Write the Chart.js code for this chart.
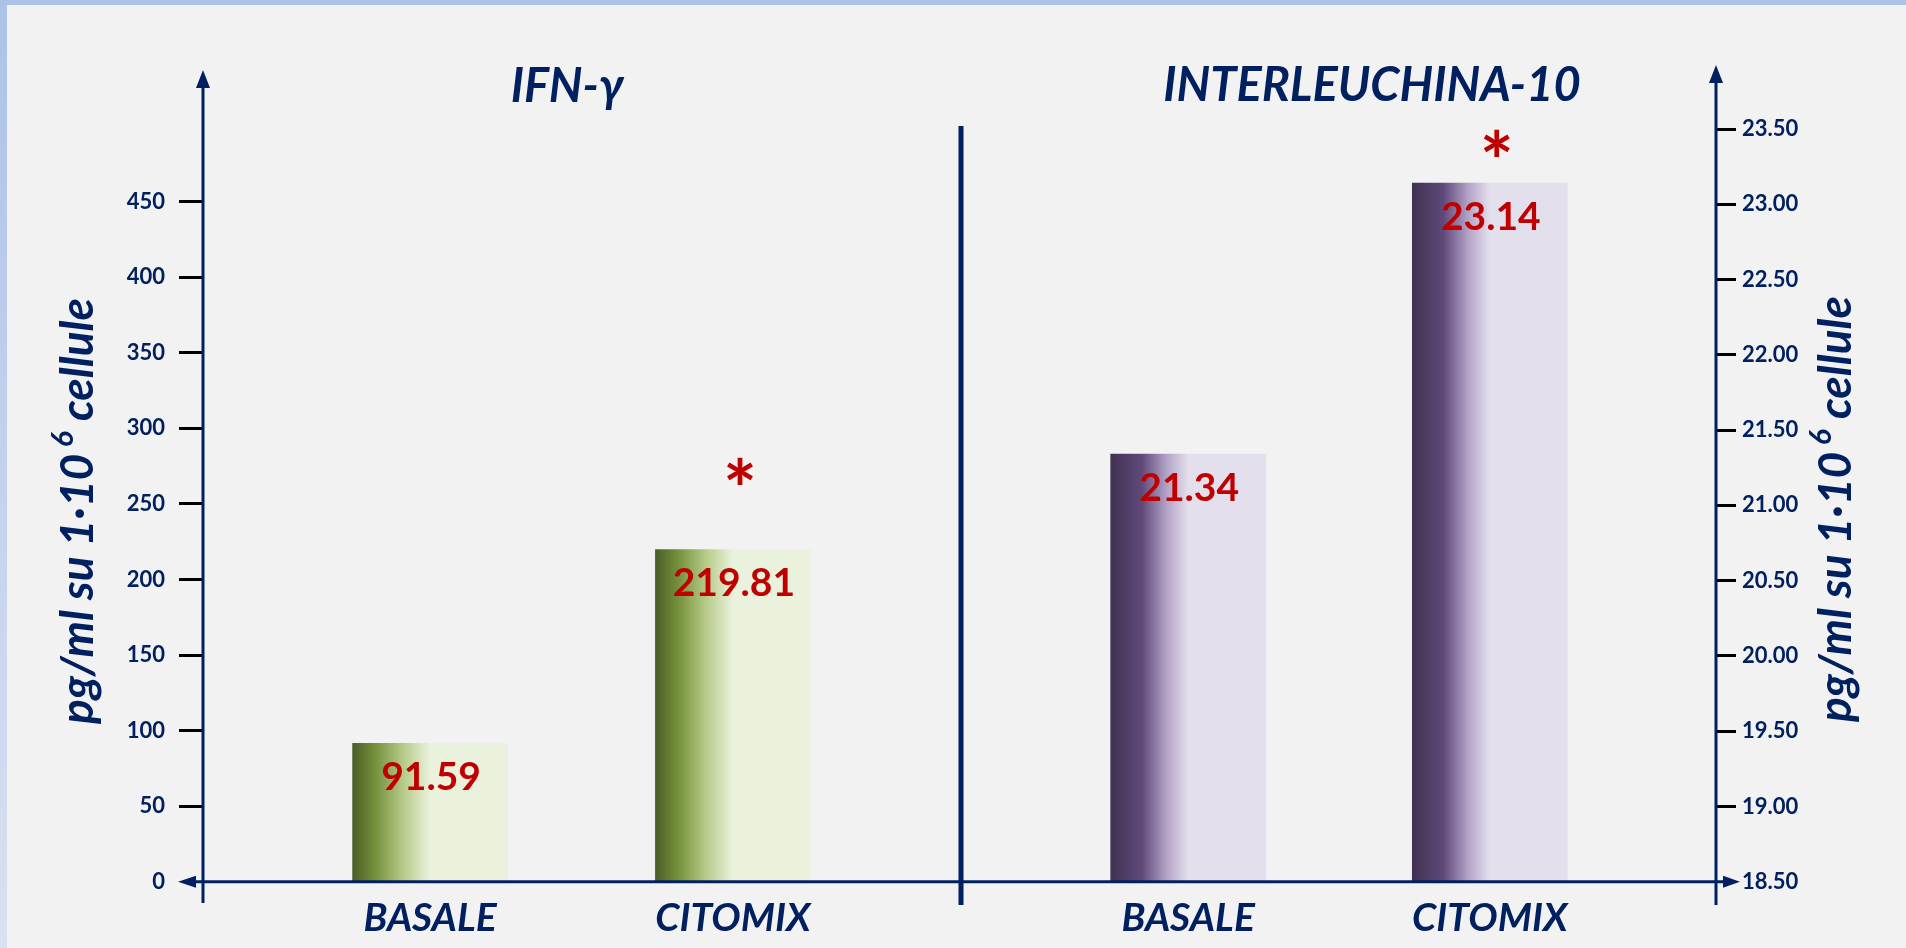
<!DOCTYPE html>
<html lang="it">
<head>
<meta charset="utf-8">
<title>IFN-γ e Interleuchina-10</title>
<script src="https://cdn.jsdelivr.net/npm/chart.js@4.4.1/dist/chart.umd.min.js"></script>
<style>
  html, body { margin: 0; padding: 0; }
  body { width: 1906px; height: 948px; background: #f2f2f2; position: relative; overflow: hidden; }
  #bordoSu { position: absolute; left: 0; top: 0; width: 1906px; height: 5px; background: #adc2e8; }
  #bordoSx { position: absolute; left: 0; top: 0; width: 7px; height: 948px; background: linear-gradient(#adc2e8, #d9e1f2); }
  canvas { position: absolute; left: 0; top: 0; }
</style>
</head>
<body>
<div id="bordoSu"></div>
<div id="bordoSx"></div>
<canvas id="graficoIfn" width="1906" height="948"></canvas>
<canvas id="graficoIl10" width="1906" height="948"></canvas>
<script>
// dati
var categorie = ['BASALE', 'CITOMIX'];
var valoriIfn = [91.59, 219.81];
var valoriIl10 = [21.34, 23.14];
var signifIfn = ['', '*'];
var signifIl10 = ['', '*'];
var tickIfn = [0, 50, 100, 150, 200, 250, 300, 350, 400, 450];
var tickIl10 = [18.5, 19, 19.5, 20, 20.5, 21, 21.5, 22, 22.5, 23, 23.5];
var titoloIfn = 'IFN-γ';
var titoloIl10 = 'INTERLEUCHINA-10';
var titoloAsse = ['pg/ml su 1·10', ' 6', ' cellule'];

var BLU = '#002060';
var ROSSO = '#c00000';
var FONT = 'Lato';

var verde = [[0, '#4b5e26'], [0.15, '#76923c'], [0.33, '#b7cc8a'], [0.5, '#eaf1dd'], [1, '#eaf1dd']];
var viola = [[0, '#3f3151'], [0.2, '#5f497a'], [0.36, '#b3a2c7'], [0.5, '#e4dfec'], [1, '#e4dfec']];

function sfumatura(stops, spessore) {
  return function(ctx) {
    var fondo = stops[stops.length - 1][1];
    var x = ctx.chart.scales.x;
    if (!x || ctx.type !== 'data') return fondo;
    var cx = x.getPixelForValue(ctx.dataIndex);
    if (!isFinite(cx)) return fondo;
    var g = ctx.chart.ctx.createLinearGradient(cx - spessore / 2, 0, cx + spessore / 2, 0);
    stops.forEach(function(s) { g.addColorStop(s[0], s[1]); });
    return g;
  };
}

function linea(c, x1, y1, x2, y2) {
  c.beginPath();
  c.moveTo(x1, y1);
  c.lineTo(x2, y2);
  c.stroke();
}

function freccia(c, x, y, dir) {
  c.beginPath();
  c.moveTo(x, y);
  if (dir === 'su') { c.lineTo(x - 7, y + 18); c.lineTo(x + 7, y + 18); }
  if (dir === 'sx') { c.lineTo(x + 18, y - 6); c.lineTo(x + 18, y + 6); }
  if (dir === 'dx') { c.lineTo(x - 17, y - 6); c.lineTo(x - 17, y + 6); }
  c.closePath();
  c.fill();
}

// testo verticale con il 6 in apice
function titoloVerticale(c, xBase, yCentro) {
  var grande = 'italic bold 46px ' + FONT;
  var piccolo = 'italic bold 30px ' + FONT;
  c.font = grande;
  var w1 = c.measureText(titoloAsse[0]).width;
  var w3 = c.measureText(titoloAsse[2]).width;
  c.font = piccolo;
  var w2 = c.measureText(titoloAsse[1]).width;
  var tot = w1 + w2 + w3;
  c.save();
  c.translate(xBase, yCentro);
  c.rotate(-Math.PI / 2);
  c.fillStyle = BLU;
  c.textAlign = 'left';
  c.textBaseline = 'alphabetic';
  c.font = grande;
  c.fillText(titoloAsse[0], -tot / 2, 0);
  c.font = piccolo;
  c.fillText(titoloAsse[1], -tot / 2 + w1, -20);
  c.font = grande;
  c.fillText(titoloAsse[2], -tot / 2 + w1 + w2, 0);
  c.restore();
}

var decoro = {
  id: 'decoro',
  afterDraw: function(chart, args, o) {
    var c = chart.ctx;
    var a = chart.chartArea;
    var y = chart.scales.y;
    var y0 = y.getPixelForValue(y.min);
    c.save();
    c.strokeStyle = BLU;
    c.fillStyle = BLU;
    c.lineWidth = 3;

    // asse verticale con freccia
    var xa = o.lato === 'sx' ? a.left : a.right;
    linea(c, xa, o.cimaAsse + 10, xa, o.fondoAsse);
    freccia(c, xa, o.cimaAsse, 'su');

    // asse orizzontale
    if (o.lato === 'sx') {
      linea(c, o.inizioX + 10, y0, a.right + 3, y0);
      freccia(c, o.inizioX, y0, 'sx');
    } else {
      linea(c, a.left - 3, y0, o.fineX - 10, y0);
      freccia(c, o.fineX, y0, 'dx');
      // separatore centrale
      c.lineWidth = 5;
      linea(c, a.left - 1, o.cimaSep, a.left - 1, o.fondoAsse);
    }

    // titolo del pannello
    c.font = 'italic bold 47px ' + FONT;
    c.textAlign = 'center';
    c.textBaseline = 'alphabetic';
    c.fillText(o.titolo, o.titoloX, o.titoloY);

    // titolo asse
    titoloVerticale(c, o.asseTitoloX, o.asseTitoloY);

    // valori e asterischi
    var meta = chart.getDatasetMeta(0);
    var ds = chart.data.datasets[0];
    meta.data.forEach(function(bar, i) {
      c.fillStyle = ROSSO;
      c.font = 'bold 39px ' + FONT;
      c.textAlign = 'center';
      c.textBaseline = 'middle';
      c.fillText(ds.data[i].y.toFixed(2), bar.x + 1, bar.y + 34);
      if (o.signif[i]) {
        c.font = 'bold 80px ' + FONT;
        var m = c.measureText(o.signif[i]);
        c.textBaseline = 'alphabetic';
        var centro = bar.y - o.distStella;
        c.fillText(o.signif[i], bar.x + 7, centro + (m.actualBoundingBoxAscent - m.actualBoundingBoxDescent) / 2);
      }
    });
    c.restore();
  }
};

function opzioniX() {
  return {
    type: 'linear',
    offset: false,
    min: -0.75,
    max: 1.75,
    afterBuildTicks: function(s) { s.ticks = categorie.map(function(c, i) { return { value: i }; }); },
    afterFit: function(s) { s.height = 66.3; },
    border: { display: false },
    grid: { display: false },
    ticks: {
      padding: 5,
      color: BLU,
      font: { family: FONT, style: 'italic', weight: 'bold', size: 39 },
      callback: function(v) { return categorie[v]; }
    }
  };
}

function opzioniY(valori, pos, larghezza, lung, pad, dec) {
  return {
    position: pos,
    min: valori[0],
    max: valori[valori.length - 1],
    afterBuildTicks: function(s) { s.ticks = valori.map(function(v) { return { value: v }; }); },
    afterFit: function(s) { s.width = larghezza; },
    border: { display: false },
    grid: {
      drawOnChartArea: false,
      tickLength: lung,
      tickWidth: 3,
      tickColor: function(ctx) { return ctx.index === 0 ? 'rgba(0,0,0,0)' : '#000'; }
    },
    ticks: {
      padding: pad,
      color: BLU,
      font: { family: FONT, weight: 'bold', size: 22 },
      callback: function(v) { return v.toFixed(dec); }
    }
  };
}

function crea() {
  new Chart(document.getElementById('graficoIfn'), {
    type: 'bar',
    data: {
      datasets: [{
        data: valoriIfn.map(function(v, i) { return { x: i, y: v }; }),
        backgroundColor: sfumatura(verde, 155),
        barThickness: 155
      }]
    },
    options: {
      responsive: false,
      animation: false,
      layout: { padding: { left: 0, right: 946, top: 201.7, bottom: 0 } },
      scales: { x: opzioniX(), y: opzioniY(tickIfn, 'left', 203, 24, 14, 0) },
      plugins: {
        legend: { display: false },
        tooltip: { enabled: false },
        decoro: {
          lato: 'sx', cimaAsse: 70, fondoAsse: 903, inizioX: 178,
          titolo: titoloIfn, titoloX: 567, titoloY: 102,
          asseTitoloX: 93, asseTitoloY: 511,
          signif: signifIfn, distStella: 53
        }
      }
    },
    plugins: [decoro]
  });

  new Chart(document.getElementById('graficoIl10'), {
    type: 'bar',
    data: {
      datasets: [{
        data: valoriIl10.map(function(v, i) { return { x: i, y: v }; }),
        backgroundColor: sfumatura(viola, 155),
        barThickness: 155
      }]
    },
    options: {
      responsive: false,
      animation: false,
      layout: { padding: { left: 962, right: 0, top: 129, bottom: 0 } },
      scales: { x: opzioniX(), y: opzioniY(tickIl10, 'right', 190, 20, 6, 2) },
      plugins: {
        legend: { display: false },
        tooltip: { enabled: false },
        decoro: {
          lato: 'dx', cimaAsse: 65, fondoAsse: 905, fineX: 1740, cimaSep: 126,
          titolo: titoloIl10, titoloX: 1372, titoloY: 101,
          asseTitoloX: 1851, asseTitoloY: 509,
          signif: signifIl10, distStella: 14
        }
      }
    },
    plugins: [decoro]
  });
}

if (document.fonts && document.fonts.load) {
  Promise.all([
    document.fonts.load('bold 22px ' + FONT),
    document.fonts.load('italic bold 36px ' + FONT)
  ]).then(crea, crea);
} else {
  crea();
}
</script>
</body>
</html>
